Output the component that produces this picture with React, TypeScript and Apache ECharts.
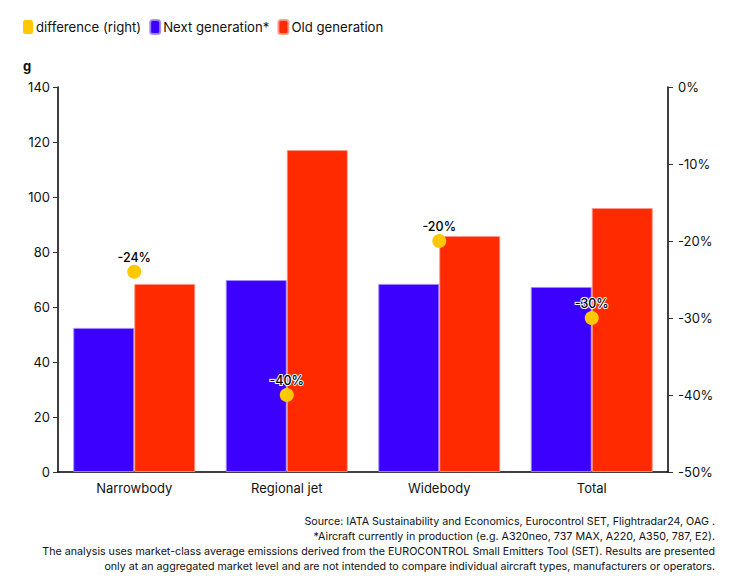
import React, { useEffect, useRef } from "react";
import * as echarts from "echarts";

const categories = ["Narrowbody", "Regional jet", "Widebody", "Total"];
const nextGen = [52.4, 69.8, 68.4, 67.3];
const oldGen = [68.4, 117.1, 85.8, 96.0];
const difference = [-24, -40, -20, -30];
const footerLines = [
  "Source: IATA Sustainability and Economics, Eurocontrol SET, Flightradar24, OAG .",
  "*Aircraft currently in production (e.g. A320neo, 737 MAX, A220, A350, 787, E2).",
  "The analysis uses market-class average emissions derived from the EUROCONTROL Small Emitters Tool (SET). Results are presented",
  "only at an aggregated market level and are not intended to compare individual aircraft types, manufacturers or operators.",
];

const FONT = "Inter, 'Noto Sans', sans-serif";

export default function App() {
  const ref = useRef<HTMLDivElement>(null);
  useEffect(() => {
    if (!ref.current) return;
    const chart = echarts.init(ref.current, null, { renderer: "svg" });
    chart.setOption({
      animation: false,
      textStyle: { fontFamily: FONT },
      legend: {
        left: 18,
        top: 14,
        icon: "roundRect",
        itemWidth: 10,
        itemHeight: 14,
        itemGap: 8,
        textStyle: { fontSize: 13.2, color: "#111", fontFamily: FONT, padding: [0, 0, 0, -2] },
        data: ["difference (right)", "Next generation*", "Old generation"],
      },
      grid: { left: 58, right: 62, top: 87, bottom: 112 },
      xAxis: {
        type: "category",
        data: categories,
        axisLine: { lineStyle: { color: "#000", width: 1.5 } },
        axisTick: { alignWithLabel: true, lineStyle: { color: "#333" }, length: 5 },
        axisLabel: { fontSize: 13, color: "#111", margin: 9, fontFamily: FONT },
      },
      yAxis: [
        {
          type: "value",
          min: 0,
          max: 140,
          interval: 20,
          splitLine: { show: false },
          axisLine: { show: true, lineStyle: { color: "#000", width: 1.5 } },
          axisTick: { show: true, length: 5, lineStyle: { color: "#333" } },
          axisLabel: { fontSize: 13, color: "#111", margin: 8, fontFamily: FONT },
        },
        {
          type: "value",
          min: -50,
          max: 0,
          interval: 10,
          splitLine: { show: false },
          axisLine: { show: true, lineStyle: { color: "#000", width: 1.5 } },
          axisTick: { show: true, length: 5, lineStyle: { color: "#333" } },
          axisLabel: { fontSize: 13, color: "#111", margin: 10, formatter: "{value}%", fontFamily: FONT },
        },
      ],
      series: [
        {
          name: "difference (right)",
          type: "scatter",
          yAxisIndex: 1,
          data: difference,
          symbolSize: 14,
          z: 5,
          itemStyle: { color: "#FFC800", opacity: 1 },
          label: {
            show: true,
            position: "top",
            distance: 1,
            formatter: "{c}%",
            fontSize: 12.5,
            fontWeight: 500,
            color: "#000",
            textBorderColor: "#fff",
            textBorderWidth: 2,
            fontFamily: FONT,
          },
        },
        {
          name: "Next generation*",
          type: "bar",
          data: nextGen,
          barWidth: "40%",
          barGap: "0%",
          itemStyle: { color: "#3C00FF", borderColor: "rgba(160,140,255,0.9)", borderWidth: 1 },
        },
        {
          name: "Old generation",
          type: "bar",
          data: oldGen,
          barWidth: "40%",
          barGap: "0%",
          itemStyle: { color: "#FF2A00", borderColor: "rgba(255,150,140,0.9)", borderWidth: 1 },
        },
      ],
      graphic: [
        {
          type: "text",
          left: 23,
          top: 59,
          style: { text: "g", fontSize: 13, fontWeight: "bold", fill: "#111", fontFamily: FONT },
        },
        {
          type: "text",
          x: 715,
          y: 514,
          style: {
            text: footerLines.join("\n"),
            fontSize: 10.7,
            lineHeight: 15,
            align: "right",
            verticalAlign: "top",
            fill: "#111",
            fontFamily: FONT,
          },
        },
      ],
    });
    return () => chart.dispose();
  }, []);
  return (
    <div
      ref={ref}
      style={{ position: "fixed", left: 0, top: 0, width: 730, height: 584, background: "#fff" }}
    />
  );
}
